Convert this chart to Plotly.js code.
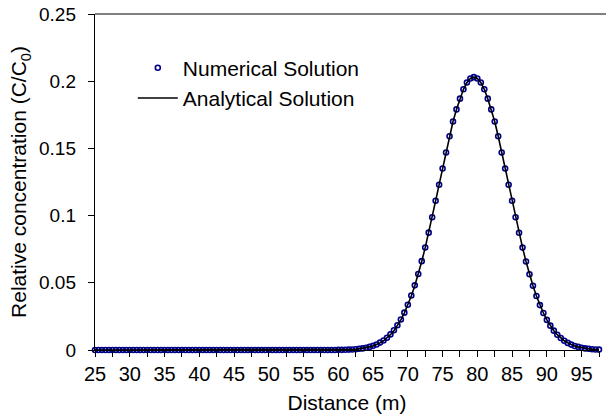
<!DOCTYPE html>
<html>
<head>
<meta charset="utf-8">
<script src="https://cdn.plot.ly/plotly-3.0.1.min.js"></script>
<style>html,body{margin:0;padding:0;background:#fff;}#chart{width:606px;height:419px;}</style>
</head>
<body>
<div id="chart"></div>
<script>
// Distance (m)
const distance = [
  25,25.5,26,26.5,27,27.5,28,28.5,29,29.5,30,30.5,31,31.5,32,32.5,33,33.5,34,34.5,
  35,35.5,36,36.5,37,37.5,38,38.5,39,39.5,40,40.5,41,41.5,42,42.5,43,43.5,44,44.5,
  45,45.5,46,46.5,47,47.5,48,48.5,49,49.5,50,50.5,51,51.5,52,52.5,53,53.5,54,54.5,
  55,55.5,56,56.5,57,57.5,58,58.5,59,59.5,60,60.5,61,61.5,62,62.5,63,63.5,64,64.5,
  65,65.5,66,66.5,67,67.5,68,68.5,69,69.5,70,70.5,71,71.5,72,72.5,73,73.5,74,74.5,
  75,75.5,76,76.5,77,77.5,78,78.5,79,79.5,80,80.5,81,81.5,82,82.5,83,83.5,84,84.5,
  85,85.5,86,86.5,87,87.5,88,88.5,89,89.5,90,90.5,91,91.5,92,92.5,93,93.5,94,94.5,
  95,95.5,96,96.5,97,97.5
];
// Numerical solution C/C0
const numerical = [
  0,0,0,0,0,0,0,0,0,0,0,0,0,0,0,0,0,0,0,0,
  0,0,0,0,0,0,0,0,0,0,0,0,0,0,0,0,0,0,0,0,
  0,0,0,0,0,0,0,0,0,0,0,0,0,0,0,0,0,0,0,0,
  0,0,0,0,0,0,0,0,0,0,0.0001,0.0001,0.0002,0.0003,0.0004,0.0006,0.0009,0.0012,0.0017,0.0023,
  0.0031,0.0041,0.0055,0.0071,0.0091,0.0116,0.0147,0.0184,0.0227,0.0278,0.0337,0.0405,0.0481,0.0566,0.0661,0.0763,0.0873,0.0988,0.111,0.123,
  0.135,0.147,0.159,0.170,0.179,0.187,0.194,0.199,0.202,0.203,0.202,0.199,0.194,0.187,0.179,0.170,0.159,0.147,0.135,0.123,
  0.111,0.0988,0.0872,0.0762,0.0659,0.0564,0.0478,0.0402,0.0334,0.0275,0.0224,0.0181,0.0144,0.0114,0.0089,0.0069,0.0053,0.0040,0.0030,0.0023,
  0.0017,0.0012,0.0009,0.0006,0.0004,0.0003
];
// Analytical solution C/C0
const analytical = [
  0,0,0,0,0,0,0,0,0,0,0,0,0,0,0,0,0,0,0,0,
  0,0,0,0,0,0,0,0,0,0,0,0,0,0,0,0,0,0,0,0,
  0,0,0,0,0,0,0,0,0,0,0,0,0,0,0,0,0,0,0,0,
  0,0,0,0,0,0,0,0,0,0,0.0001,0.0001,0.0002,0.0003,0.0004,0.0006,0.0009,0.0012,0.0017,0.0023,
  0.0030,0.0040,0.0053,0.0069,0.0089,0.0114,0.0144,0.0181,0.0224,0.0275,0.0334,0.0402,0.0478,0.0564,0.0659,0.0762,0.0872,0.0988,0.111,0.123,
  0.135,0.147,0.159,0.170,0.179,0.187,0.194,0.199,0.202,0.203,0.202,0.199,0.194,0.187,0.179,0.170,0.159,0.147,0.135,0.123,
  0.111,0.0988,0.0872,0.0762,0.0659,0.0564,0.0478,0.0402,0.0334,0.0275,0.0224,0.0181,0.0144,0.0114,0.0089,0.0069,0.0053,0.0040,0.0030,0.0023,
  0.0017,0.0012,0.0009,0.0006,0.0004,0.0003
];
const seriesNames = ['Numerical Solution', 'Analytical Solution'];
const xTickVals = [25,30,35,40,45,50,55,60,65,70,75,80,85,90,95];
const yTickVals = [0,0.05,0.1,0.15,0.2,0.25];

const FONT = 'Liberation Sans, Arial, Helvetica, sans-serif';

const traces = [
  {
    x: distance, y: numerical, name: seriesNames[0], type: 'scatter', mode: 'markers',
    marker: {symbol: 'circle-open', size: 5, color: '#00008b', line: {width: 1.6, color: '#00008b'}},
    cliponaxis: false
  },
  {
    x: distance, y: analytical, name: seriesNames[1], type: 'scatter', mode: 'lines',
    line: {color: '#000000', width: 1.6}
  }
];

const layout = {
  width: 606, height: 419,
  margin: {l: 95, r: 7, t: 14, b: 69, pad: 0},
  paper_bgcolor: '#ffffff', plot_bgcolor: '#ffffff',
  font: {family: FONT, size: 20, color: '#000000'},
  showlegend: true,
  legend: {
    x: 0.075, y: 0.90, xanchor: 'left', yanchor: 'top',
    bgcolor: 'rgba(0,0,0,0)', borderwidth: 0,
    font: {family: FONT, size: 21, color: '#000'},
    itemwidth: 40, tracegroupgap: 0
  },
  xaxis: {
    range: [25, 97.5], tickvals: xTickVals, ticktext: xTickVals.map(String),
    ticks: 'outside', ticklen: 6, tickwidth: 1, tickcolor: '#000',
    minor: {dtick: 2.5, tick0: 25, ticks: 'outside', ticklen: 6, tickwidth: 1, tickcolor: '#000', showgrid: false},
    showline: true, linecolor: '#000', linewidth: 1.2, showgrid: false, zeroline: false,
    tickfont: {family: FONT, size: 20},
    title: {text: 'Distance (m)', font: {family: FONT, size: 21}, standoff: 11}
  },
  yaxis: {
    range: [0, 0.25], tickvals: yTickVals, ticktext: ['0','0.05','0.1','0.15','0.2','0.25'],
    ticks: 'outside', ticklen: 6, tickwidth: 1, tickcolor: '#000',
    showline: true, linecolor: '#000', linewidth: 1.2, showgrid: false, zeroline: false,
    tickfont: {family: FONT, size: 19},
    ticklabelstandoff: 8,
    title: {text: 'Relative concentration (C/C<sub>0</sub>)', font: {family: FONT, size: 21}, standoff: 6}
  },
  shapes: [
    {type: 'line', xref: 'paper', yref: 'paper', x0: 0, x1: 1.02, y0: 1, y1: 1, line: {color: '#000', width: 1.2}}
  ]
};

Plotly.newPlot('chart', traces, layout, {displayModeBar: false, staticPlot: true});
</script>
</body>
</html>
